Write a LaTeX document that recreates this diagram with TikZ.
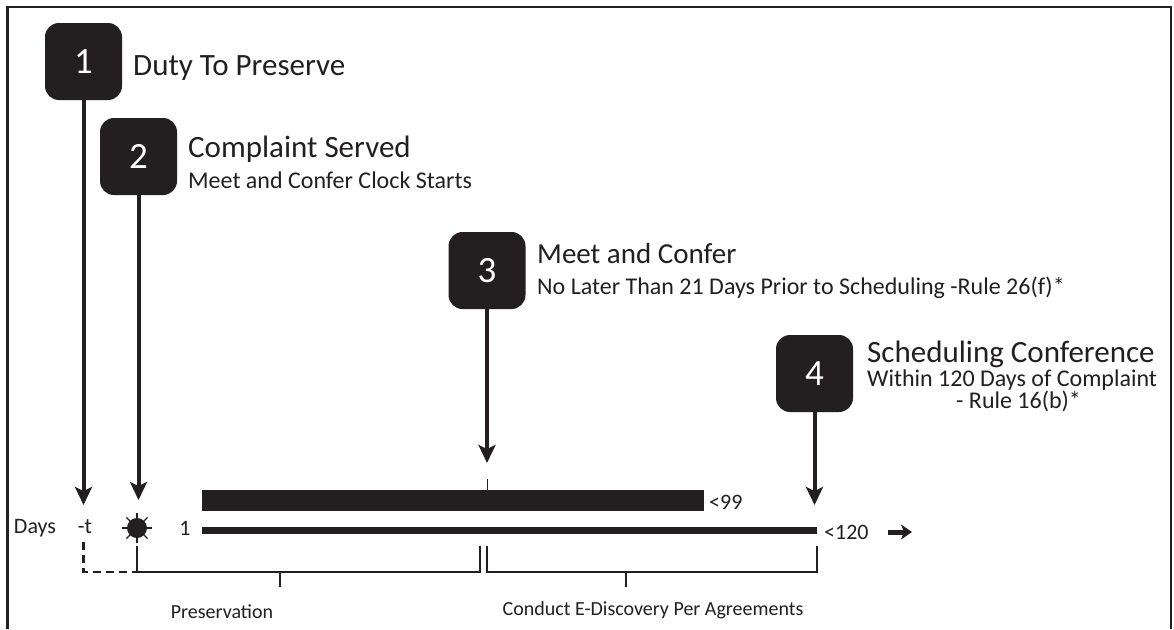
\documentclass[tikz,border=0pt]{standalone}
\usepackage{fontspec}
\setmainfont{Carlito}
\usetikzlibrary{arrows.meta}
\definecolor{ink}{HTML}{231F20}
\begin{document}
\begin{tikzpicture}[x=1pt,y=-1pt,
  numbox/.style={fill=ink, rounded corners=14pt, minimum width=77pt, minimum height=77pt,
    text=white, font=\fontsize{37}{37}\selectfont, inner sep=0pt},
  title/.style={anchor=base west, inner sep=0pt, text=ink, font=\fontsize{31}{31}\selectfont},
  sub/.style={anchor=base west, inner sep=0pt, text=ink, font=\fontsize{24}{24}\selectfont},
  axislabel/.style={inner sep=0pt, text=ink, font=\fontsize{22}{22}\selectfont},
  phase/.style={inner sep=0pt, text=ink, font=\fontsize{20}{20}\selectfont},
  drop/.style={draw=ink, line width=4pt, -{Stealth[length=18pt,width=17pt,inset=4pt]}},
  bracket/.style={draw=ink, line width=1.5pt},
  post/.style={draw=ink, line width=2pt}]
\useasboundingbox (0,0) rectangle (1174,629);
\fill[white] (0,0) rectangle (1174,629);

% open frame
\draw[ink, line width=2.5pt] (7.5,629) -- (7.5,7) -- (1171,7) -- (1171,629);

% numbered milestones
\node[numbox] (b1) at (83.5,61.5) {1};
\node[numbox] (b2) at (138.5,156.5) {2};
\node[numbox] (b3) at (487,270.5) {3};
\node[numbox] (b4) at (814.5,373.5) {4};

\node[title] (h1) at (133,75) {Duty To Preserve};
\node[title] (h2) at (188,157) {Complaint Served};
\node[sub]   (s2) at (188,188) {Meet and Confer Clock Starts};
\node[title, font=\fontsize{29}{29}\selectfont] (h3) at (537,263) {Meet and Confer};
\node[sub]   (s3) at (537,294) {No Later Than 21 Days Prior to Scheduling -Rule 26(f)*};
\node[title] (h4) at (867,362) {Scheduling Conference};
\node[sub]   (s4) at (867,386) {Within 120 Days of Complaint};
\node[sub]   (r4) at (956,408) {- Rule 16(b)*};

% arrow tips on the timeline
\coordinate (t1) at (83.5,505);
\coordinate (t2) at (138.5,500);
\coordinate (t3) at (487,463);
\coordinate (t4) at (814.5,505);
\draw[drop] (b1.south) -- (t1);
\draw[drop] (b2.south) -- (t2);
\draw[drop] (b3.south) -- (t3);
\draw[drop] (b4.south) -- (t4);

% timeline labels
\node[axislabel] (days) at (35,528) {Days};
\node[axislabel] (mt) at (85,527) {-t};
\node[axislabel] (one) at (185,528) {1};
\node[axislabel, anchor=west] (l99) at (709,502) {<99};
\node[axislabel, anchor=west] (l120) at (824,532) {<120};

% heavy arrow: the timeline continues
\coordinate (m0) at (888,532);
\coordinate (m1) at (912,532);
\draw[ink, line width=5pt, -{Stealth[length=11pt,width=15pt,inset=3pt]}] (m0) -- (m1);

% sun marking the complaint date
\node[circle, fill=ink, minimum size=20pt, inner sep=0pt] (sun) at (137,528) {};
\foreach \a in {0,45,...,315}
  \draw[ink, line width=1.3pt] (sun.center) ++(\a:9) -- ++(\a:6);

% bars
\fill[ink] (202,490) rectangle (704,511);
\fill[ink] (202,527) rectangle (817,534);
\draw[ink, line width=1pt] (487,479) -- (487,490);

% dashed link from -t to day 1
\draw[ink, line width=2.8pt, dash pattern=on 8pt off 5pt] (83.5,542) -- (83.5,572) -- (137,572);

% phase brackets
\draw[post] (137,546) -- (137,572);
\draw[bracket] (137,572) -- (480,572) -- (480,546);
\draw[bracket] (280,572) -- (280,587);
\draw[bracket] (487,546) -- (487,572) -- (817,572) -- (817,546);
\draw[bracket] (626,572) -- (626,587);

\node[phase] (pres) at (222,612) {Preservation};
\node[phase] (disc) at (653,610) {Conduct E-Discovery Per Agreements};
\end{tikzpicture}
\end{document}
